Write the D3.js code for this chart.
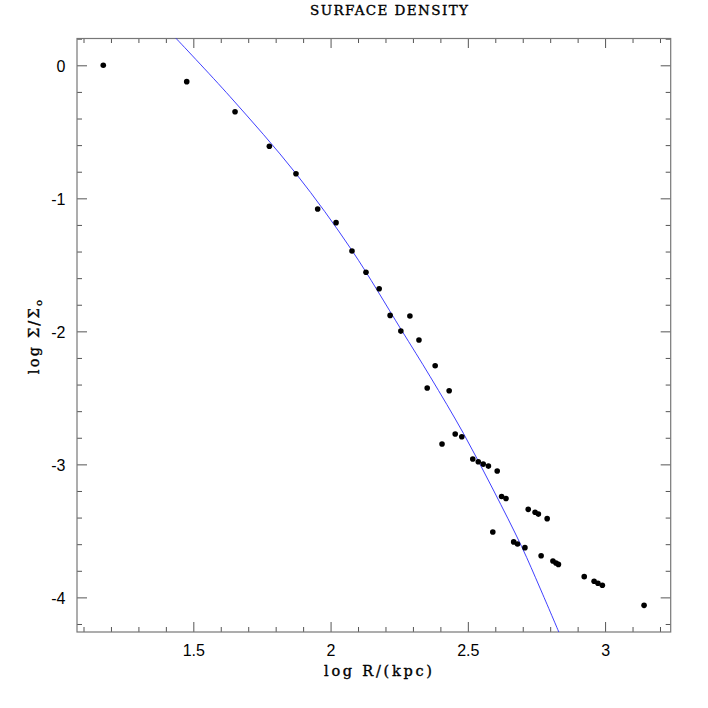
<!DOCTYPE html>
<html>
<head>
<meta charset="utf-8">
<script src="https://cdn.jsdelivr.net/npm/d3@7"></script>
<style>
  body { margin: 0; background: #fff; }
  svg { display: block; }
</style>
</head>
<body>
<script>
// measured profile: log R (kpc) vs log Sigma/Sigma_o
const logR = [1.172, 1.476, 1.652, 1.777, 1.874, 1.953, 2.020, 2.078, 2.129, 2.177,
  2.217, 2.289, 2.256, 2.322, 2.381, 2.352, 2.432, 2.454, 2.478, 2.406,
  2.518, 2.538, 2.556, 2.575, 2.607, 2.623, 2.639, 2.591, 2.667, 2.681,
  2.708, 2.720, 2.745, 2.757, 2.789, 2.767, 2.810, 2.821, 2.830, 2.924,
  2.960, 2.974, 2.990, 3.142];
const logSigma = [0.00, -0.123, -0.349, -0.609, -0.815, -1.080, -1.183, -1.396, -1.556, -1.680,
  -1.880, -1.885, -1.998, -2.065, -2.259, -2.426, -2.447, -2.772, -2.792, -2.847,
  -2.960, -2.980, -2.998, -3.013, -3.050, -3.241, -3.257, -3.508, -3.583, -3.599,
  -3.626, -3.338, -3.360, -3.374, -3.408, -3.687, -3.727, -3.741, -3.752, -3.844,
  -3.879, -3.894, -3.909, -4.060];

// model curve
const fitR = [1.436, 1.634, 1.874, 2.078, 2.256, 2.363, 2.484, 2.593, 2.696, 2.763, 2.832];
const fitSigma = [0.205, -0.236, -0.814, -1.392, -1.983, -2.341, -2.767, -3.193, -3.618, -3.930, -4.263];

const xMajor = [1.5, 2, 2.5, 3];
const xMinor = [1.1, 1.2, 1.3, 1.4, 1.6, 1.7, 1.8, 1.9, 2.1, 2.2, 2.3, 2.4, 2.6, 2.7, 2.8, 2.9, 3.1, 3.2];
const yMajor = [0, -1, -2, -3, -4];
const yMinor = [0.2, -0.2, -0.4, -0.6, -0.8, -1.2, -1.4, -1.6, -1.8, -2.2, -2.4, -2.6, -2.8,
  -3.2, -3.4, -3.6, -3.8, -4.2];

const W = 708, H = 708;
const box = {left: 77, right: 670.7, top: 38, bottom: 632};

const svg = d3.select('body').append('svg')
  .attr('width', W).attr('height', H);

const x = d3.scaleLinear().domain([1.0763, 3.239]).range([box.left, box.right]);
const y = d3.scaleLinear().domain([0.2053, -4.2602]).range([box.top, box.bottom]);

//axes: major ticks with labels, minor ticks plain, all pointing inward
function addAxis(axisFn, scale, values, size, tx, ty, labels, pad){
  let ax = axisFn(scale).tickValues(values).tickSize(-size).tickPadding(pad || 0);
  if(!labels) ax.tickFormat('');
  else ax.tickFormat(d => String(d));   // plain hyphen minus like the original
  let g = svg.append('g')
    .attr('transform', 'translate(' + tx + ',' + ty + ')')
    .style('color', '#555')
    .call(ax);
  g.select('.domain').remove();
  g.selectAll('text')
    .attr('fill', '#000')
    .style('font-family', '"Liberation Sans", Arial, sans-serif')
    .style('font-size', '16px');
  return g;
}

addAxis(d3.axisBottom, x, xMajor, 10, 0, box.bottom, true, 13);
addAxis(d3.axisBottom, x, xMinor, 5, 0, box.bottom, false);
addAxis(d3.axisTop, x, xMajor, 10, 0, box.top, false);
addAxis(d3.axisTop, x, xMinor, 5, 0, box.top, false);
let yl = addAxis(d3.axisLeft, y, yMajor, 10, box.left, 0, true, 11.5);
yl.selectAll('text').attr('dy', '0.4em');
addAxis(d3.axisLeft, y, yMinor, 5, box.left, 0, false);
addAxis(d3.axisRight, y, yMajor, 10, box.right, 0, false);
addAxis(d3.axisRight, y, yMinor, 5, box.right, 0, false);

// frame
svg.append('rect')
  .attr('x', box.left).attr('y', box.top + 0.5)
  .attr('width', box.right - box.left).attr('height', box.bottom - box.top - 0.5)
  .attr('fill', 'none').attr('stroke', '#777').attr('stroke-width', 1.2);

svg.append('clipPath').attr('id', 'plotclip')
  .append('rect')
  .attr('x', box.left).attr('y', box.top)
  .attr('width', box.right - box.left).attr('height', box.bottom - box.top);

const fit = fitR.map((r, i) => [r, fitSigma[i]]);
svg.append('path')
  .datum(fit)
  .attr('clip-path', 'url(#plotclip)')
  .attr('fill', 'none')
  .attr('stroke', '#2a2aff')
  .attr('stroke-width', 0.9)
  .attr('d', d3.line().x(d => x(d[0])).y(d => y(d[1])).curve(d3.curveCatmullRom));

const pts = logR.map((r, i) => [r, logSigma[i]]);
svg.append('g').selectAll('circle')
  .data(pts).enter()
  .append('circle')
    .attr('cx', d => x(d[0]))
    .attr('cy', d => y(d[1]))
    .attr('r', 2.8)
    .attr('fill', '#000');

// titles, slightly stroked to get the heavier plotter look
const serif = '"DejaVu Serif", "Liberation Serif", serif';
svg.append('text')
  .attr('x', 389).attr('y', 15)
  .attr('text-anchor', 'middle')
  .attr('textLength', 158).attr('lengthAdjust', 'spacing')
  .attr('stroke', '#000').attr('stroke-width', 0.35)
  .style('font-family', serif).style('font-size', '13.5px')
  .text('SURFACE DENSITY');

svg.append('text')
  .attr('x', 378).attr('y', 676)
  .attr('text-anchor', 'middle')
  .attr('textLength', 108).attr('lengthAdjust', 'spacing')
  .attr('stroke', '#000').attr('stroke-width', 0.35)
  .style('font-family', serif).style('font-size', '14.5px')
  .text('log R/(kpc)');

let ylab = svg.append('text')
  .attr('transform', 'translate(39,336) rotate(-90)')
  .attr('text-anchor', 'middle')
  .attr('stroke', '#000').attr('stroke-width', 0.35)
  .style('font-family', serif).style('font-size', '14.5px')
  .style('letter-spacing', '2.2px');
ylab.append('tspan').text('log \u03A3/\u03A3');
ylab.append('tspan').attr('dy', 3).style('font-size', '10px').text('o');
</script>
</body>
</html>
